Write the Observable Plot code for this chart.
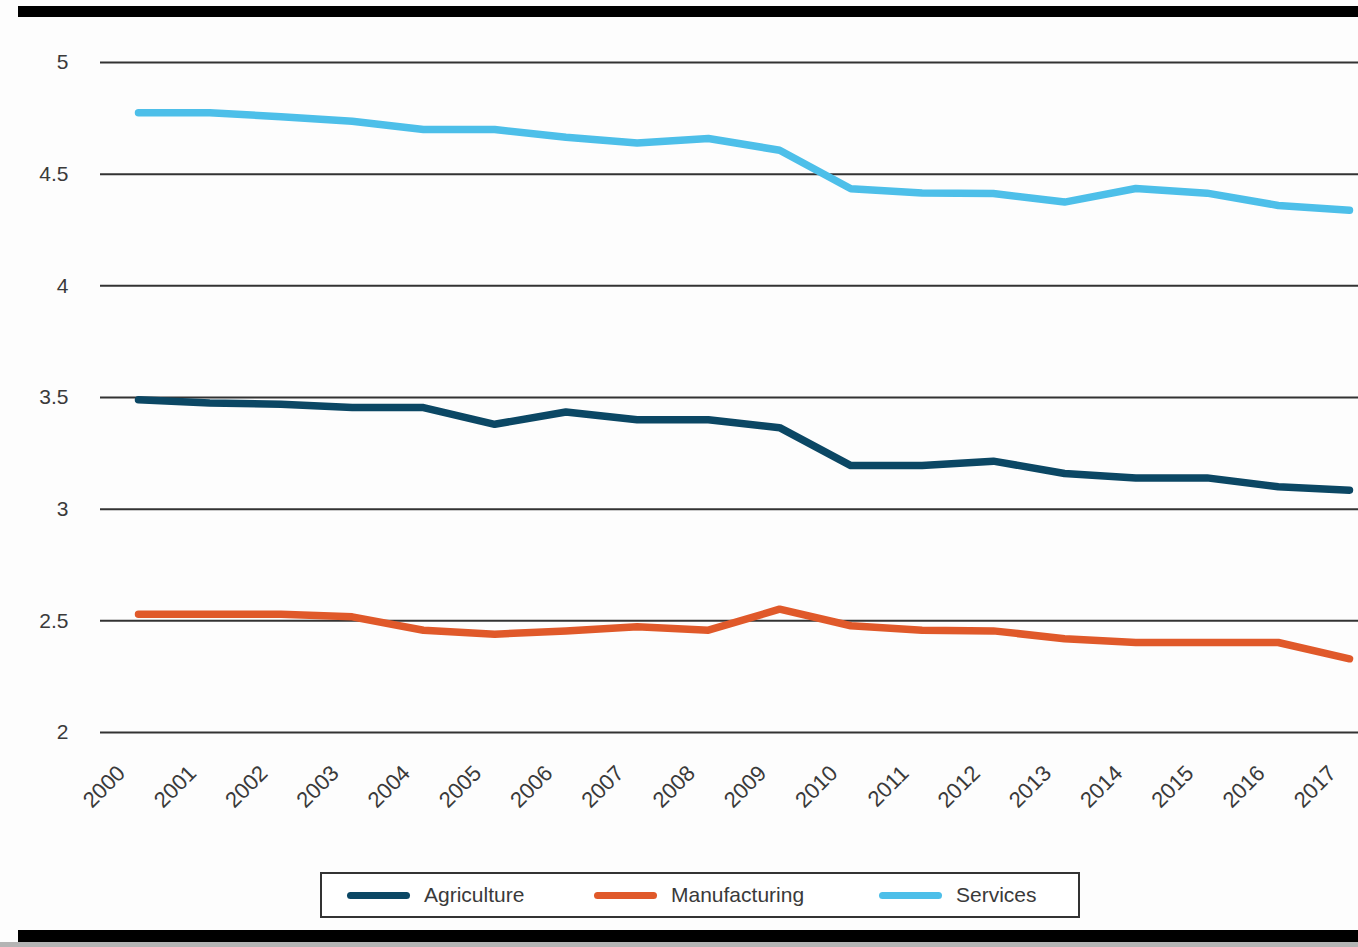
<!DOCTYPE html>
<html>
<head>
<meta charset="utf-8">
<script src="https://cdn.jsdelivr.net/npm/d3@7"></script>
<script src="https://cdn.jsdelivr.net/npm/@observablehq/plot@0.6"></script>
<style>
  html, body { margin: 0; padding: 0; background: #fdfdfd; }
  #page { position: relative; width: 1358px; height: 947px; overflow: hidden; font-family: "Liberation Sans", Arial, sans-serif; }
  .bar { position: absolute; left: 18px; right: 0; background: #000; }
  #chart { position: absolute; left: 0; top: 0; }
  #legend { position: absolute; left: 320px; top: 872px; width: 756px; height: 42px; border: 2px solid #333; background: #fff; box-sizing: content-box; }
  .item { position: absolute; top: 0; height: 42px; display: flex; align-items: center; color: #3a3a3a; font-size: 21px; }
  .swatch { width: 63px; height: 7px; border-radius: 4px; margin-right: 14px; }
</style>
</head>
<body>
<div id="page">
  <div class="bar" style="top:6px;height:11px"></div>
  <div id="chart"></div>
  <div id="legend"></div>
  <div class="bar" style="top:930px;height:12px"></div>
  <div style="position:absolute;left:0;right:0;top:942px;height:5px;background:#b4b4b4"></div>
</div>
<script>
// Annual values per sector, 2000–2017
const years = [2000, 2001, 2002, 2003, 2004, 2005, 2006, 2007, 2008, 2009,
               2010, 2011, 2012, 2013, 2014, 2015, 2016, 2017];
const agriculture   = [3.49, 3.475, 3.47, 3.455, 3.455, 3.38, 3.435, 3.40, 3.40, 3.365,
                       3.195, 3.195, 3.215, 3.16, 3.14, 3.14, 3.10, 3.085];
const manufacturing = [2.53, 2.53, 2.53, 2.518, 2.458, 2.44, 2.455, 2.473, 2.458, 2.552,
                       2.478, 2.458, 2.455, 2.42, 2.403, 2.403, 2.403, 2.33];
const services      = [4.775, 4.775, 4.757, 4.737, 4.70, 4.70, 4.665, 4.64, 4.66, 4.607,
                       4.435, 4.416, 4.413, 4.375, 4.436, 4.415, 4.36, 4.338];
const yTicks = [2, 2.5, 3, 3.5, 4, 4.5, 5];

const seriesNames  = ["Agriculture", "Manufacturing", "Services"];
const seriesColors = ["#0b4764", "#e0592a", "#4dbfe9"];
const seriesValues = [agriculture, manufacturing, services];

const rows = seriesNames.flatMap((name, s) =>
  years.map((year, i) => ({series: name, year, value: seriesValues[s][i]})));

const chart = Plot.plot({
  width: 1358,
  height: 870,
  marginLeft: 100,
  marginRight: 0,
  marginTop: 62,
  marginBottom: 138,
  style: {background: "transparent", fontFamily: "Liberation Sans, Arial, sans-serif", fontSize: "21px", color: "#3a3a3a"},
  x: {domain: [2000, 2017], range: [138, 1349], axis: null},
  y: {domain: [2, 5]},
  color: {domain: seriesNames, range: seriesColors},
  marks: [
    Plot.ruleY(yTicks, {stroke: "#333", strokeWidth: 2}),
    Plot.axisY({ticks: yTicks, tickSize: 0, tickPadding: 32, label: null, fontSize: 21, tickFormat: d => String(d)}),
    Plot.text(years, {
      x: d => d, frameAnchor: "bottom", rotate: -45, textAnchor: "end",
      dx: -12, dy: 42, fontSize: 22, fill: "#3a3a3a", text: d => String(d)
    }),
    Plot.line(rows, {
      x: "year", y: "value", z: "series", stroke: "series",
      strokeWidth: 7.5, strokeLinecap: "round", strokeLinejoin: "round"
    })
  ]
});
document.getElementById("chart").appendChild(chart);

// Legend below the plot
const legend = document.getElementById("legend");
const itemLefts = [25, 272, 557];
seriesNames.forEach((name, i) => {
  const item = document.createElement("div");
  item.className = "item";
  item.style.left = itemLefts[i] + "px";
  const sw = document.createElement("div");
  sw.className = "swatch";
  sw.style.background = seriesColors[i];
  const label = document.createElement("span");
  label.textContent = name;
  item.appendChild(sw);
  item.appendChild(label);
  legend.appendChild(item);
});
</script>
</body>
</html>
